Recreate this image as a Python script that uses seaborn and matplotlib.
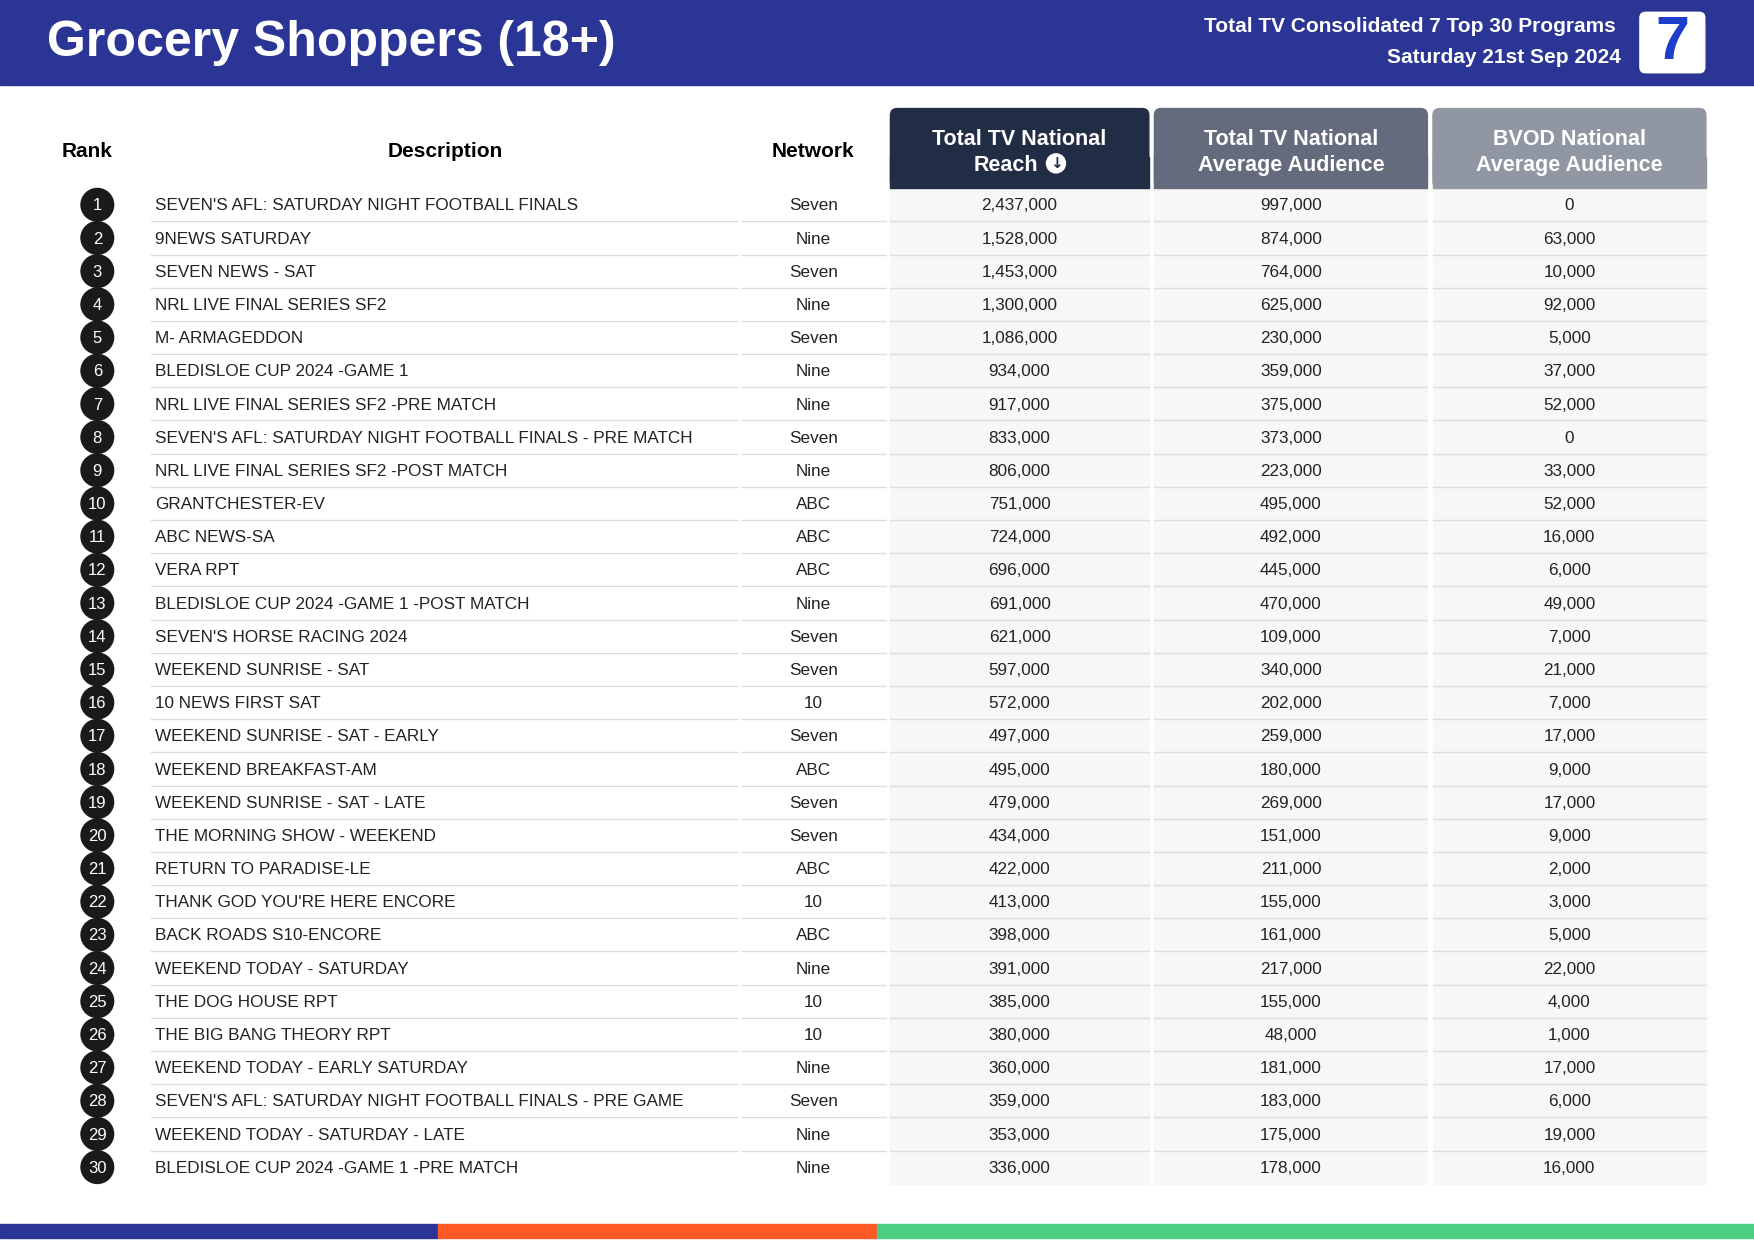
import matplotlib
matplotlib.use("Agg")
import matplotlib.pyplot as plt
from matplotlib.patches import Rectangle, FancyBboxPatch, Circle
import pandas as pd
import seaborn as sb

title = "Grocery Shoppers (18+)"
subtitle1 = "Total TV Consolidated 7 Top 30 Programs"
subtitle2 = "Saturday 21st Sep 2024"

programs = [
    "SEVEN'S AFL: SATURDAY NIGHT FOOTBALL FINALS", "9NEWS SATURDAY", "SEVEN NEWS - SAT",
    "NRL LIVE FINAL SERIES SF2", "M- ARMAGEDDON", "BLEDISLOE CUP 2024 -GAME 1",
    "NRL LIVE FINAL SERIES SF2 -PRE MATCH", "SEVEN'S AFL: SATURDAY NIGHT FOOTBALL FINALS - PRE MATCH",
    "NRL LIVE FINAL SERIES SF2 -POST MATCH", "GRANTCHESTER-EV", "ABC NEWS-SA", "VERA RPT",
    "BLEDISLOE CUP 2024 -GAME 1 -POST MATCH", "SEVEN'S HORSE RACING 2024", "WEEKEND SUNRISE - SAT",
    "10 NEWS FIRST SAT", "WEEKEND SUNRISE - SAT - EARLY", "WEEKEND BREAKFAST-AM",
    "WEEKEND SUNRISE - SAT - LATE", "THE MORNING SHOW - WEEKEND", "RETURN TO PARADISE-LE",
    "THANK GOD YOU'RE HERE ENCORE", "BACK ROADS S10-ENCORE", "WEEKEND TODAY - SATURDAY",
    "THE DOG HOUSE RPT", "THE BIG BANG THEORY RPT", "WEEKEND TODAY - EARLY SATURDAY",
    "SEVEN'S AFL: SATURDAY NIGHT FOOTBALL FINALS - PRE GAME", "WEEKEND TODAY - SATURDAY - LATE",
    "BLEDISLOE CUP 2024 -GAME 1 -PRE MATCH",
]
networks = ["Seven", "Nine", "Seven", "Nine", "Seven", "Nine", "Nine", "Seven", "Nine", "ABC",
            "ABC", "ABC", "Nine", "Seven", "Seven", "10", "Seven", "ABC", "Seven", "Seven",
            "ABC", "10", "ABC", "Nine", "10", "10", "Nine", "Seven", "Nine", "Nine"]
reach = [2437000, 1528000, 1453000, 1300000, 1086000, 934000, 917000, 833000, 806000, 751000,
         724000, 696000, 691000, 621000, 597000, 572000, 497000, 495000, 479000, 434000,
         422000, 413000, 398000, 391000, 385000, 380000, 360000, 359000, 353000, 336000]
avg_aud = [997000, 874000, 764000, 625000, 230000, 359000, 375000, 373000, 223000, 495000,
           492000, 445000, 470000, 109000, 340000, 202000, 259000, 180000, 269000, 151000,
           211000, 155000, 161000, 217000, 155000, 48000, 181000, 183000, 175000, 178000]
bvod = [0, 63000, 10000, 92000, 5000, 37000, 52000, 0, 33000, 52000, 16000, 6000, 49000, 7000,
        21000, 7000, 17000, 9000, 17000, 9000, 2000, 3000, 5000, 22000, 4000, 1000, 17000,
        6000, 19000, 16000]

df = pd.DataFrame({"rank": range(1, 31), "program": programs, "network": networks,
                   "reach": reach, "avg": avg_aud, "bvod": bvod})

FONT = "Liberation Sans"
sb.set_theme(style="white", rc={"font.family": FONT})
W, H = 1568, 1109
fig = plt.figure(figsize=(17.54, 12.41), dpi=100)
ax = fig.add_axes([0, 0, 1, 1])

# rows (rank bubbles via seaborn)
y0, dy = 183, (1043 - 183) / 29
df["y"] = y0 + (df["rank"] - 1) * dy
df["cx"] = 87
sb.scatterplot(data=df, x="cx", y="y", s=600, color="#1A1A1A", edgecolor="none", ax=ax,
               zorder=3, legend=False)
ax.set_xlim(0, W)
ax.set_ylim(H, 0)
ax.axis("off")

# header band
ax.add_patch(Rectangle((0, 0), W, 76, color="#2B3595", zorder=1))
ax.text(42, 38, title, color="white", fontsize=36, fontweight="bold", va="center")
ax.text(1444, 24, subtitle1, color="white", fontsize=15, fontweight="bold", va="center", ha="right")
ax.text(1449, 51, subtitle2, color="white", fontsize=15, fontweight="bold", va="center", ha="right")
ax.add_patch(FancyBboxPatch((1466, 11), 58, 54, boxstyle="round,pad=0,rounding_size=5",
                            color="white", zorder=2))
ax.text(1495, 39, "7", color="#1C3FCB", fontsize=44, fontweight="bold", va="center",
        ha="center", zorder=3)

# column headers
for x, lab in [(78, "Rank"), (398, "Description"), (727, "Network")]:
    ax.text(x, 135, lab, fontsize=15, fontweight="bold", ha="center", va="center", color="black")
cols = [(796, 1027, "#212D45", "Total TV National"),
        (1032, 1276, "#646B7D", "Total TV National\nAverage Audience"),
        (1281, 1525, "#9097A3", "BVOD National\nAverage Audience")]
for x0, x1, c, lab in cols:
    ax.add_patch(FancyBboxPatch((x0, 97), x1 - x0, 71, boxstyle="round,pad=0,rounding_size=6",
                                color=c, zorder=2))
    ax.add_patch(Rectangle((x0, 140), x1 - x0, 28, color=c, zorder=2))
    ax.add_patch(Rectangle((x0, 168), x1 - x0, 890, color="#F7F7F7", zorder=1))
    if "\n" in lab:
        ax.text((x0 + x1) / 2, 136, lab, color="white", fontsize=15.5, fontweight="bold",
                ha="center", va="center", linespacing=1.3, zorder=3)
    else:
        ax.text((x0 + x1) / 2, 124.5, lab, color="white", fontsize=15.5, fontweight="bold",
                ha="center", va="center", zorder=3)
ax.text(899, 148, "Reach", color="white", fontsize=15.5, fontweight="bold",
        ha="center", va="center", zorder=3)
ax.add_patch(Circle((944, 146), 8.5, color="white", zorder=3))
ax.text(944, 146.5, "\u2193", color="#212D45", fontsize=11, fontweight="bold", family="DejaVu Sans",
        ha="center", va="center", zorder=4)

for _, r in df.iterrows():
    y = r["y"] + 1
    ax.text(87, y, str(r["rank"]), color="white", fontsize=12, ha="center", va="center", zorder=4)
    ax.text(139, y, r["program"], color="#222222", fontsize=12.3, va="center", zorder=4)
    ax.text(727, y, r["network"], color="#222222", fontsize=12.3, ha="center", va="center", zorder=4)
    for (x0, x1, _, _), v in zip(cols, [r["reach"], r["avg"], r["bvod"]]):
        ax.text((x0 + x1) / 2, y, f"{v:,}", color="#222222", fontsize=12.3, ha="center",
                va="center", zorder=4)
    if r["rank"] < 30:
        yl = r["y"] + dy / 2
        for a, b in [(135, 659), (662, 792), (796, 1027), (1032, 1276), (1281, 1525)]:
            ax.plot([a, b], [yl, yl], color="#DDDDDD", lw=1, zorder=2)

# bottom stripes
ax.add_patch(Rectangle((0, 1094), 392, 12, color="#2B3595"))
ax.add_patch(Rectangle((392, 1094), 392, 12, color="#FF5A26"))
ax.add_patch(Rectangle((784, 1094), W - 784, 12, color="#4CCF83"))

fig.savefig("out.png", dpi=100, facecolor="white")
